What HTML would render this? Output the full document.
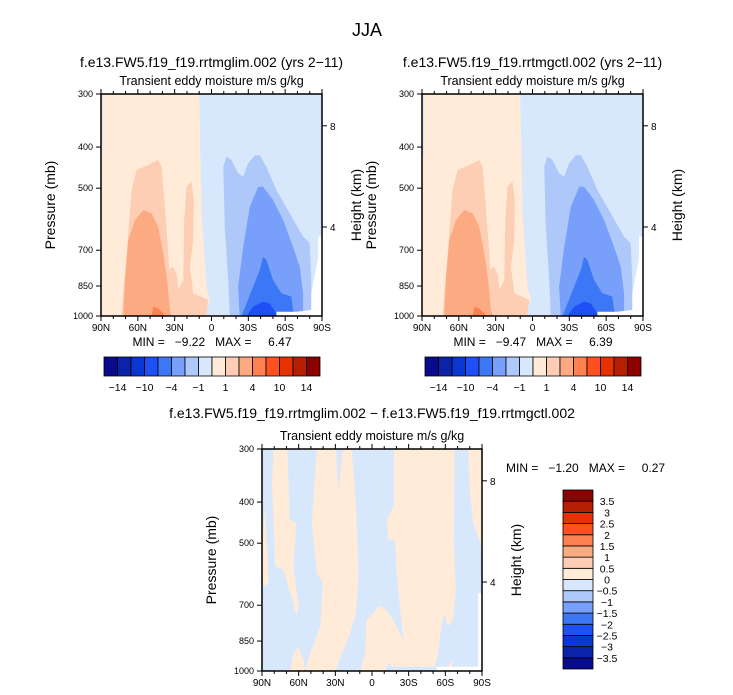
<!DOCTYPE html>
<html><head><meta charset="utf-8"><style>
html,body{margin:0;padding:0;background:#fff;}
svg{display:block;font-family:"Liberation Sans",sans-serif;}
</style></head><body>
<svg id="c" width="733" height="695" viewBox="0 0 733 695" xmlns="http://www.w3.org/2000/svg">
<text x="367" y="36" font-size="18" text-anchor="middle">JJA</text>
</svg>
<script>
// ---- data ----
const colorsTop = ["#0a0a8c","#0a23a8","#0a37d2","#1e50f5","#3c78f5","#78a0fa","#afc8fa","#d7e8fc","#ffebd7","#fdcdb4","#fcaa82","#fc8050","#ff5020","#e63200","#b42000","#8c0000"];
const topBarLabels = ["−14","−10","−4","−1","1","4","10","14"];
const diffBarLabels = ["3.5","3","2.5","2","1.5","1","0.5","0","−0.5","−1","−1.5","−2","−2.5","−3","−3.5"];
const latTicks = [90,60,30,0,-30,-60,-90];
const latTickLabels = ["90N","60N","30N","0","30S","60S","90S"];
const presTicks = [300,400,500,700,850,1000];
const heightTicks = [4,8];
const panelStats = [["−9.22","6.47"],["−9.47","6.39"],["−1.20","0.27"]];
// contour regions for the two climatology panels: [colorIndex, [[lat,p],...]]
const orangeBg = [[88.5,300],[10,300],[8.1,573],[4.1,853],[1.3,917],[5.4,968],[6.8,1000],[90,1000],[90,418],[88.5,418]];
const lev2 = [[73.2,1000],[71.8,884],[69.1,712],[65.1,505],[61,453],[51.5,441],[43.4,429],[40.7,445],[37.1,594],[34.4,779],[31.2,765],[27.9,808],[27.1,868],[23,823],[22.2,594],[20.3,496],[16.3,482],[14.4,533],[14.9,662],[17.6,765],[14.9,884],[2.7,917],[4.1,986],[5.4,1000]];
const lev3 = [[71.8,1000],[70.5,823],[67.8,662],[62.3,594],[55.6,563],[48.8,573],[43.4,616],[39.3,712],[36.1,823],[33.9,968],[32.5,1000]];
const lev4 = [[48.8,1000],[47.4,951],[43.4,960],[39.3,986],[37.9,1000]];
const levm2 = [[-14.9,1000],[-13.6,823],[-10.8,616],[-9.5,445],[-12.2,421],[-16.3,429],[-21.7,461],[-25.8,470],[-29.8,437],[-35.3,418],[-39.3,418],[-44.7,445],[-52.9,505],[-63.7,573],[-74.6,650],[-80,674],[-81.3,823],[-81.3,986],[-82.2,1000]];
const levm3 = [[-23,1000],[-21.7,853],[-25.8,687],[-31.2,553],[-38,496],[-42,496],[-50.2,533],[-58.3,594],[-66.4,687],[-71.8,765],[-74.6,884],[-74.6,1000]];
const levm4 = [[-24.4,1000],[-28.5,934],[-33.9,853],[-39.3,779],[-42,725],[-44.7,738],[-50.2,823],[-56.9,884],[-65.1,900],[-66.4,968],[-67.8,1000]];
const levm5 = [[-28.5,1000],[-33.9,951],[-42,925],[-47.4,934],[-52.9,986],[-54.2,1000]];
const missingTop = [[-86.8,650],[-90,650],[-90,1000],[-52.9,1000],[-52.9,977],[-69.1,977],[-81.3,968],[-81.3,884],[-85.4,765],[-86.8,725]];
const topRegions = [[8,orangeBg],[9,lev2],[10,lev3],[11,lev4],[6,levm2],[5,levm3],[4,levm4],[3,levm5],[-1,missingTop]];
// difference panel regions
const dA = [[80.5,300],[69.1,300],[67.4,441],[62,448],[64.2,567],[60.1,705],[61.5,744],[72.3,578],[79.1,567],[81.8,361]];
const dA2 = [[90,518],[87.3,409],[84.6,621],[89.2,633]];
const dB = [[45.1,300],[29.4,300],[27.5,377],[23.9,300],[16.6,300],[13,409],[11.1,589],[13,731],[17.9,815],[30.2,1000],[54.7,1000],[50.6,908],[42.4,786],[40.2,621],[45.1,589],[49.2,448]];
const dB2 = [[66.9,1000],[64.2,908],[60.1,876],[56,942],[54.7,1000]];
const dC = [[9.8,1000],[5.7,908],[4.4,758],[-1.1,731],[-5.2,705],[-9.2,705],[-17.4,758],[-25.6,845],[-14.7,942],[-10.6,1000]];
const dD = [[-17.9,300],[-67.7,300],[-66.9,491],[-68.5,644],[-66.3,758],[-62.3,786],[-59,731],[-56.8,786],[-54.1,908],[-51.4,977],[-16,977],[-13.3,942],[-25.6,845],[-20.1,589],[-18.8,491],[-13.3,491],[-12,441],[-17.9,409]];
const dE = [[-78.6,300],[-89.5,300],[-90,518],[-86.7,482],[-82.7,448],[-79.9,374]];
const dF = [[-62.3,977],[-65,942],[-66.3,1000]];
const missingDiff = [[-86.7,656],[-90,656],[-90,1000],[-52.8,1000],[-52.8,977],[-86.7,977]];
const diffRegions = [[8,dA],[8,dA2],[8,dB],[8,dB2],[8,dC],[8,dD],[8,dE],[8,dF],[-1,missingDiff]];

// ---- drawing ----
const NS="http://www.w3.org/2000/svg";
const svg=document.getElementById('c');
function mk(tag,attrs,parent){const e=document.createElementNS(NS,tag);for(const k in attrs)e.setAttribute(k,attrs[k]);(parent||svg).appendChild(e);return e;}
function txt(s,x,y,size,anchor,parent,rot){const t=mk('text',{x:x,y:y,'font-size':size,'text-anchor':anchor||'middle'},parent);if(rot)t.setAttribute('transform','rotate(-90 '+x+' '+y+')');t.textContent=s;return t;}

function drawPanel(px,py,w,h,bgIdx,regions,name,stats,subtitle){
  const g=mk('g',{});
  
  
  const xs=lat=>px+(90-lat)/180*w;
  const ys=p=>py+h-Math.log(1000/p)/Math.log(1000/300)*h;
  const zs=km=>py+h-(km*25.3-12.2);
  const bg=mk('rect',{x:px,y:py,width:w,height:h,fill:colorsTop[bgIdx]},g);
  
  
  regions.forEach(r=>{
    const poly=mk('polygon',{points:r[1].map(q=>xs(q[0]).toFixed(1)+','+ys(q[1]).toFixed(1)).join(' '),fill:r[0]<0?'#ffffff':colorsTop[r[0]]},g);
    
    
  });
  mk('rect',{x:px,y:py,width:w,height:h,fill:'none',stroke:'#000','stroke-width':1.5},g);
  for(let l=90;l>=-90;l-=10){
    const major=(l%30===0);const L=major?5:3;
    mk('line',{x1:xs(l),x2:xs(l),y1:py+h,y2:py+h+L,stroke:'#000'},g);
    mk('line',{x1:xs(l),x2:xs(l),y1:py,y2:py-L,stroke:'#000'},g);
  }
  latTicks.forEach((l,i)=>{const t=txt(latTickLabels[i],xs(l),py+h+15,10,'middle',g);});
  presTicks.forEach(p=>{mk('line',{x1:px-5,x2:px,y1:ys(p),y2:ys(p),stroke:'#000'},g);
    const t=txt(String(p),px-8,ys(p)+3,9,'end',g);});
  heightTicks.forEach(k=>{mk('line',{x1:px+w,x2:px+w+5,y1:zs(k),y2:zs(k),stroke:'#000'},g);
    const t=txt(String(k),px+w+8,zs(k)+4,10,'start',g);});
  const yl=txt('Pressure  (mb)',px-46,py+h/2,14,'middle',g,true);
  
  
  const hl=txt('Height  (km)',px+w+39,py+h/2,14,'middle',g,true);
  
  
  const st=txt('Transient  eddy  moisture m/s  g/kg',px+w/2,py-9,12.5,'middle',g);
  
  
  if(subtitle){const s=txt(subtitle,px+w/2,py-27,14,'middle',g);}
  return {xs,ys};
}

function hBar(x,y,w,h,name){
  const g=mk('g',{});
  
  
  const bw=w/colorsTop.length;
  colorsTop.forEach((c,i)=>{const r=mk('rect',{x:x+i*bw,y:y,width:bw,height:h,fill:c,stroke:'#000','stroke-width':0.8},g);
    });
  topBarLabels.forEach((s,i)=>{const t=txt(s,x+(2*i+1)*bw,y+h+15,10.5,'middle',g);});
}
function vBar(x,y,w,h,name){
  const g=mk('g',{});
  
  
  const n=colorsTop.length,bh=h/n;
  colorsTop.forEach((c,i)=>{const r=mk('rect',{x:x,y:y+(n-1-i)*bh,width:w,height:bh,fill:c,stroke:'#000','stroke-width':0.8},g);
    });
  diffBarLabels.forEach((s,i)=>{const t=txt(s,x+w+14,y+(i+1)*bh+4,10.5,'middle',g);});
}
function stat(i,x,y,anchor){
  const t=txt('MIN =   '+panelStats[i][0]+'   MAX =     '+panelStats[i][1],x,y,12,anchor||'middle');
  
  
  t.setAttribute('xml:space','preserve');t.style.whiteSpace='pre';
}

drawPanel(101,94,221,222,7,topRegions,'panel-rrtmglim',0,'f.e13.FW5.f19_f19.rrtmglim.002 (yrs 2−11)');
drawPanel(422,94,221,222,7,topRegions,'panel-rrtmgctl',1,'f.e13.FW5.f19_f19.rrtmgctl.002 (yrs 2−11)');
drawPanel(262,449,220,222,7,diffRegions,'panel-difference',2,null);
stat(0,212,346);
stat(1,533,346);
stat(2,506,472,'start');
hBar(104,357,216,19,'colorbar-left');
hBar(425,357,216,19,'colorbar-right');
vBar(563,490,30,179,'colorbar-difference');
const dt=txt('f.e13.FW5.f19_f19.rrtmglim.002 − f.e13.FW5.f19_f19.rrtmgctl.002',372,418,14,'middle');


</script>
</body></html>
